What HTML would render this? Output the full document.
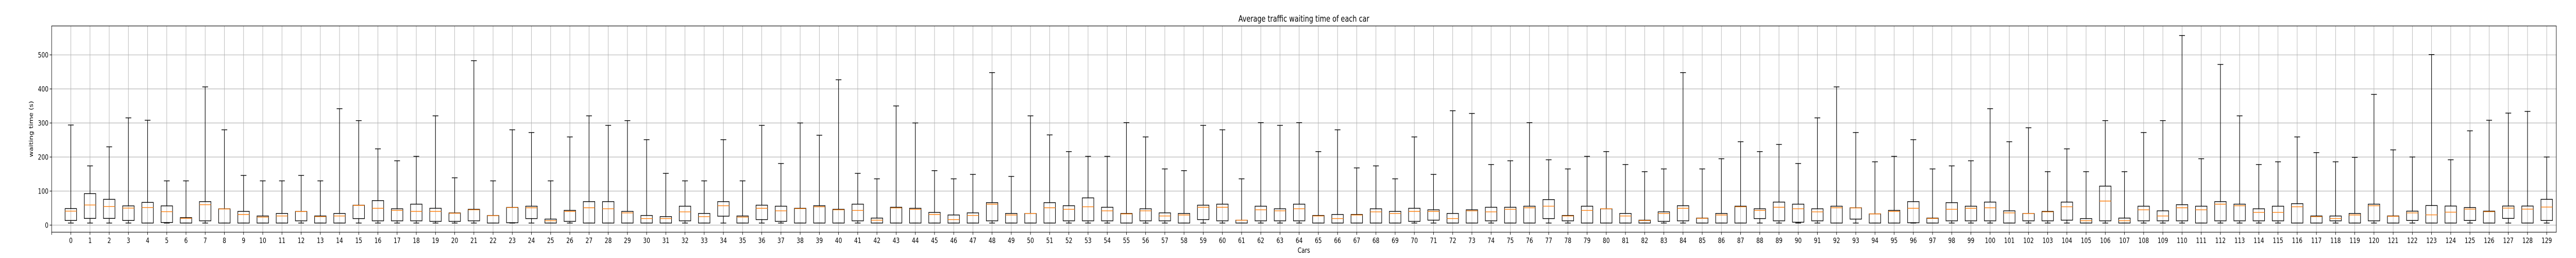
<!DOCTYPE html>
<html><head><meta charset="utf-8"><style>
html,body{margin:0;padding:0;background:#fff;width:100vw;height:100vh;overflow:hidden;}
svg{display:block;width:100vw;height:100vh;font-family:"DejaVu Sans","Liberation Sans",sans-serif;}
</style></head><body>
<svg id="chart" viewBox="0 0 6500 500" preserveAspectRatio="none" xmlns="http://www.w3.org/2000/svg">
<rect x="0" y="0" width="6500" height="500" fill="#fff"/>
<text x="3290" y="42" font-size="16.7" text-anchor="middle" fill="#000">Average traffic waiting time of each car</text>
<text x="0" y="0" font-size="13.9" text-anchor="middle" fill="#000" transform="translate(83,250) rotate(-90)">waiting time (s)</text>
<text x="3290" y="490" font-size="13.9" text-anchor="middle" fill="#000">Cars</text>
<g id="grid"></g>
<g id="boxes"></g>
<g id="axes"></g>
</svg>
<script>
const yTicks = [0,100,200,300,400,500];
const whiskLow = Array(130).fill(6);
const q1 = [
13.6,19.7,19.7,13.6,6,7.5,6,12.6,6,6,
6,6,12.6,6,6,19.2,12.6,12.6,12.6,11,
11,12.6,6,7,19.2,6,11,6,6,6,
6,6,12.6,6,26.3,6,16.2,11,6,6,
6,12.6,6,6,6,6,6,6,12.6,6,
6,6,12.6,12.6,12.6,6,12.6,12.6,6,16.2,
12.6,6,12.6,12.6,12.6,6,6,6,6,6,
11,14.6,6,6,12.6,6,6,19.2,12.6,6,
6,6,6,11,12.6,6,6,6,19.2,12.6,
8.6,12.6,6,17.7,6,6,7,6,12.6,12.6,
12.6,6,12.6,12.6,14.6,6,12.6,6,12.6,12.6,
12.6,6,12.6,12.6,12.6,12.6,6,6,12.6,6,
12.6,6,13.6,6,6,13.6,6,19.7,6,13.6];
const medians = [
41,59,54.5,50,51.5,39.4,20,60,47.5,31.3,
23.7,26.8,40,25,26.8,58,49.5,43.4,40.4,40.4,
35,45,27.8,51.5,51,13,40.4,51,48,36,
19.2,19.2,39,25,57,23.7,49.5,42,48.5,54,
45,43.4,14.6,50.5,46.5,31.3,16.2,28.3,61.6,29.8,
34.3,51,46.5,54,42,33,42,26.8,29.8,52.5,
52.5,14.6,45,42,48,26.8,19.2,29.8,39,34.3,
40.4,40.4,19.2,42,39,46.5,51,55.6,26.8,43.4,
48,26.8,13.6,34.3,49.5,20,29.8,54,43.4,52.5,
48,39,51,50.5,33,40.4,49.5,19.7,46.5,49.5,
51,36,34,39,54,13,70.7,13,45,26.8,
51,45,61.6,57,37.4,37.4,54,25,19.2,29.8,
57,26,36,30,38,47,39.4,50,47,53];
const q3 = [
48.5,92.4,75.7,56.5,66.7,56.5,22,69,48,40.4,
26.8,34.3,40.4,26.8,34.3,58.6,72,48,61.6,49.5,
35.9,46.5,28.3,52,55.6,17.7,43.4,69,69,40.4,
28.3,25,55.6,34.3,69,26.8,58.6,55.6,49.5,57,
46.5,61.6,20.7,52.5,49.5,37.4,29.8,36,66,34.3,
34.3,66,57,80,52.5,34.3,48,36,34.3,58.6,
61.6,14.6,55.6,48,61.6,28.3,31.3,31.3,48,40.4,
49.5,45,34.3,45,52.5,52.5,55.6,75,28.3,55.6,
48,34.3,14.6,39,57,20.7,34.3,55.6,48,67.7,
61.6,48,55.6,51,33,43.4,69,20.7,66,55.6,
67.7,42,34.3,40.4,67.7,19.2,114.6,20.7,55.6,42,
60,55.6,69,61.6,48,55.6,63,26.8,26.8,34.3,
61.6,27,41,57.5,56,51.5,41,56,56,75.7];
const whiskHigh = [
294,174,230,315,308,130,130,406,280,146,
130,130,146,130,342,307,224,189,202,321,
139,483,130,280,272,130,259,321,293,307,
251,152,130,130,251,130,293,181,300,264,
427,152,136,350,300,160,136,149,448,143,
321,265,216,202,202,301,259,165,160,293,
280,136,301,293,301,216,280,168,174,136,
259,149,336,328,178,189,301,192,165,202,
216,178,157,165,448,165,195,245,216,237,
181,315,406,272,186,202,251,165,174,189,
342,245,286,157,224,157,307,157,272,307,
557,195,472,321,178,186,259,213,186,199,
384,221,200,501,192,277,308,329,334,200];
const carLabels = whiskHigh.map((_, i) => String(i));

const NS = "http://www.w3.org/2000/svg";
const L = 130.3, R = 6450.3, T = 50.3, B = 450;
const xMin = 0, xMax = 130.5, yMin = -20.8, yMax = 585;
function xPos(i){ return L + (i + 1 - xMin) / (xMax - xMin) * (R - L); }
function yPos(v){ return B - (v - yMin) / (yMax - yMin) * (B - T); }
function mk(tag, attrs, parent){
  const e = document.createElementNS(NS, tag);
  for (const k in attrs) e.setAttribute(k, attrs[k]);
  parent.appendChild(e);
  return e;
}
const grid = document.getElementById('grid');
const boxes = document.getElementById('boxes');
const axes = document.getElementById('axes');
const GC = "#b0b0b0";

yTicks.forEach(v => {
  const y = yPos(v);
  const g = mk('line', {x1:L, x2:R, y1:y, y2:y, stroke:GC, 'stroke-width':1.1}, grid);
  
  
  const t = mk('line', {x1:L-5, x2:L, y1:y, y2:y, stroke:'#000', 'stroke-width':1.1}, axes);
  
  
  const lb = mk('text', {x:L-8, y:y+5, 'font-size':13.9, 'text-anchor':'end', fill:'#000'}, axes);
  lb.textContent = String(v);
  
  
});
{
  const t0 = mk('line', {x1:L, x2:L, y1:B, y2:B+5, stroke:'#000', 'stroke-width':1.1}, axes);
  
  
}
const capW = 14.5, boxW = 29;
for (let i = 0; i < whiskHigh.length; i++) {
  const x = xPos(i);
  const gl = mk('line', {x1:x, x2:x, y1:T, y2:B, stroke:GC, 'stroke-width':1.1}, grid);
  
  

  const g = mk('g', {}, boxes);
  
  
  const st = {stroke:'#000', 'stroke-width':1.4, fill:'none'};
  const wh = mk('line', Object.assign({x1:x, x2:x, y1:yPos(q3[i]), y2:yPos(whiskHigh[i])}, st), g);
  
  
  const wl = mk('line', Object.assign({x1:x, x2:x, y1:yPos(q1[i]), y2:yPos(whiskLow[i])}, st), g);
  
  
  const ch = mk('line', Object.assign({x1:x-capW/2, x2:x+capW/2, y1:yPos(whiskHigh[i]), y2:yPos(whiskHigh[i])}, st), g);
  
  
  const cl = mk('line', Object.assign({x1:x-capW/2, x2:x+capW/2, y1:yPos(whiskLow[i]), y2:yPos(whiskLow[i])}, st), g);
  
  
  const bx = mk('rect', Object.assign({x:x-boxW/2, y:yPos(q3[i]), width:boxW, height:Math.max(0.5, yPos(q1[i]) - yPos(q3[i]))}, st), g);
  
  
  const md = mk('line', {x1:x-boxW/2, x2:x+boxW/2, y1:yPos(medians[i]), y2:yPos(medians[i]), stroke:'#ff7f0e', 'stroke-width':1.4}, g);
  
  

  const t = mk('line', {x1:x, x2:x, y1:B, y2:B+5, stroke:'#000', 'stroke-width':1.1}, axes);
  
  
  const lb = mk('text', {x:x, y:471, 'font-size':13.9, 'text-anchor':'middle', fill:'#000'}, axes);
  lb.textContent = carLabels[i];
  
  
}
const fr = mk('rect', {x:L, y:T, width:R-L, height:B-T, fill:'none', stroke:'#000', 'stroke-width':1.1}, axes);


</script>
</body></html>
